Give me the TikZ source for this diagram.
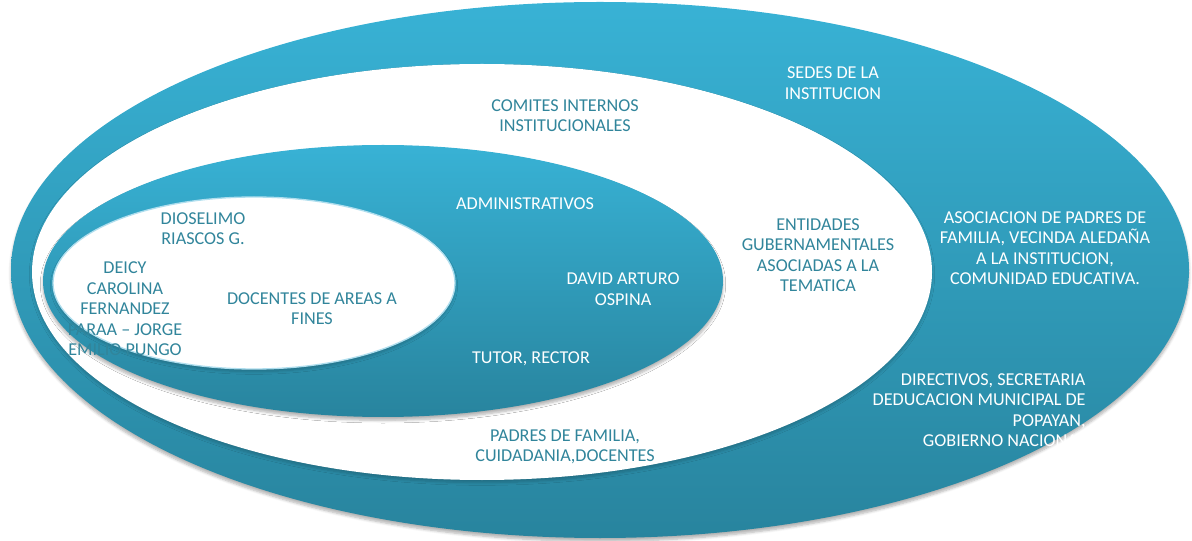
\documentclass[tikz,border=0pt]{standalone}
\usepackage{fontspec}
\setmainfont{Carlito}
\usetikzlibrary{shadows.blur}

\definecolor{ringtop}{RGB}{56,178,213}
\definecolor{ringbot}{RGB}{40,132,158}
\definecolor{tealtext}{RGB}{49,133,155}
\definecolor{rimblue}{RGB}{175,222,238}

\tikzset{every picture/.style={line width=0.75pt}}
\tikzset{
  ring/.style={draw opacity=0, top color=ringtop, bottom color=ringbot,
    blur shadow={shadow xshift=0pt, shadow yshift=-2.5pt, shadow blur steps=6, shadow blur radius=2pt, shadow opacity=30}},
  hole/.style={fill=white, draw opacity=0,
    blur shadow={shadow xshift=0pt, shadow yshift=-2pt, shadow blur steps=6, shadow blur radius=2pt, shadow opacity=20}},
  tealtxt/.style={text=tealtext, align=center, inner sep=0pt, font=\fontsize{13.6}{15.4}\selectfont},
  whitetxt/.style={tealtxt, text=white}
}

\begin{document}
\begin{tikzpicture}[x=0.75pt,y=0.75pt,yscale=-1,xscale=1]
\useasboundingbox (0,0) rectangle (1192,541);

%Shape: Ellipse [outer ring]
\draw [ring] (600,270) ellipse (589 and 268) ;
%Shape: Ellipse [white band]
\draw [hole] (482,272) ellipse (450 and 208) ;
%Shape: Ellipse [inner ring]
\draw [ring] (383,281) ellipse (340 and 136) ;
%Shape: Ellipse [core]
\draw [hole, draw=rimblue, draw opacity=1, line width=1pt] (254,283) ellipse (201 and 86) ;

% Text Node
\draw (833,83) node (sedes) [whitetxt] {SEDES DE LA\\INSTITUCION};
% Text Node
\draw (565,115.5) node (comites) [tealtxt] {COMITES INTERNOS\\INSTITUCIONALES};
% Text Node
\draw (525,204) node (admin) [whitetxt] {ADMINISTRATIVOS};
% Text Node
\draw (203,228.5) node (dioselimo) [tealtxt] {DIOSELIMO\\RIASCOS G.};
% Text Node
\draw (125,309) node (deicy) [tealtxt] {DEICY\\CAROLINA\\FERNANDEZ\\PARAA -- JORGE\\EMILIO PUNGO};
% Text Node
\draw (312,308.5) node (docentes) [tealtxt] {DOCENTES DE AREAS A\\FINES};
% Text Node
\draw (623,289) node (david) [whitetxt] {DAVID ARTURO\\OSPINA};
% Text Node
\draw (531,359) node (tutor) [whitetxt] {TUTOR, RECTOR};
% Text Node
\draw (818,255) node (entidades) [tealtxt] {ENTIDADES\\GUBERNAMENTALES\\ASOCIADAS A LA\\TEMATICA};
% Text Node
\draw (1045,248) node (asociacion) [whitetxt] {ASOCIACION DE PADRES DE\\FAMILIA, VECINDA ALEDAÑA\\A LA INSTITUCION,\\COMUNIDAD EDUCATIVA.};
% Text Node
\draw (1086,410) node (directivos) [whitetxt, anchor=east, align=right] {DIRECTIVOS, SECRETARIA\\DEDUCACION MUNICIPAL DE\\POPAYAN,\\GOBIERNO NACIONAL};
% Text Node
\draw (565,447) node (padres) [tealtxt] {PADRES DE FAMILIA,\\CUIDADANIA,DOCENTES};

\end{tikzpicture}
\end{document}
